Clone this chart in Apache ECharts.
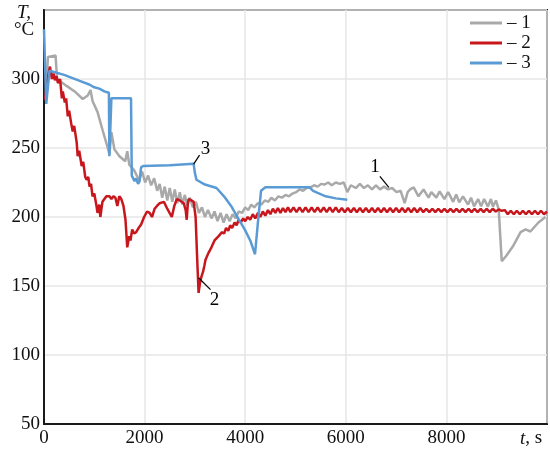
<!DOCTYPE html>
<html>
<head>
<meta charset="utf-8">
<script src="https://cdn.jsdelivr.net/npm/echarts@6/dist/echarts.min.js"></script>
<style>
  html, body { margin: 0; padding: 0; background: #fff; }
  #chart { width: 550px; height: 457px; }
</style>
</head>
<body>
<div id="chart"></div>
<script>
// x ticks (s) and y ticks (°C)
const xTicks = [0, 2000, 4000, 6000, 8000, 10000];
const yTicks = [50, 100, 150, 200, 250, 300];
const legendNames = ['– 1', '– 2', '– 3'];

// curve 1 (gray): [t, T]
const curve1 = [
  [50, 300], [80, 316], [230, 317], [260, 300], [450, 295], [610, 291], [770, 285.5],
  [870, 288], [925, 292], [965, 284], [1065, 276], [1160, 263.6], [1260, 251], [1300, 245.5],
  [1340, 261.5], [1400, 249], [1500, 244], [1615, 240.4], [1655, 247.7], [1695, 238],
  [1790, 234], [1890, 226.6], [1950, 233], [2010, 225], [2070, 230], [2130, 223], [2190, 228],
  [2250, 219], [2300, 224], [2350, 214], [2400, 222], [2450, 212], [2500, 221], [2550, 211],
  [2600, 220], [2650, 210], [2700, 218], [2750, 209], [2800, 216], [2850, 208], [2900, 214],
  [2960, 207], [3020, 211], [3080, 203], [3140, 207], [3200, 200], [3260, 205], [3330, 199],
  [3390, 204], [3450, 197], [3510, 203], [3570, 196], [3630, 202], [3690, 197], [3750, 202],
  [3810, 199], [3870, 204], [3940, 203], [4000, 207], [4060, 205], [4120, 209], [4180, 207],
  [4250, 210], [4320, 209], [4390, 212], [4460, 211], [4520, 214], [4590, 212], [4660, 215],
  [4730, 214], [4800, 216], [4870, 215], [4940, 217], [5010, 218], [5080, 220], [5150, 219],
  [5220, 221], [5300, 221.5], [5370, 223], [5440, 222], [5510, 224], [5575, 223.5], [5650, 225],
  [5720, 223], [5800, 225], [5880, 224], [5960, 225], [6030, 218], [6100, 223], [6200, 221],
  [6280, 224], [6360, 221], [6440, 223], [6520, 220], [6600, 223], [6680, 220], [6760, 222],
  [6840, 220], [6920, 221], [7010, 218], [7090, 219], [7170, 210], [7230, 218], [7280, 220],
  [7350, 221.5], [7445, 215], [7545, 220], [7645, 214], [7700, 218], [7800, 214], [7865, 218.6],
  [7960, 213], [8035, 218], [8135, 211], [8195, 216.4], [8255, 210.6], [8330, 215], [8430, 209],
  [8490, 214], [8550, 207.7], [8630, 213], [8690, 207.7], [8750, 213], [8825, 207.5], [8885, 213],
  [8925, 207.5], [8985, 212], [9040, 205.5], [9100, 168], [9180, 171.4], [9320, 178.6],
  [9475, 189], [9575, 191], [9670, 189.5], [9830, 196], [9970, 200]
];

// curve 2 (red): [t, T]
const curve2 = [
  [20, 285], [60, 298], [118, 309], [158, 300], [190, 304], [217, 299], [250, 302], [276, 297],
  [320, 300], [355, 286], [374, 291], [414, 283], [440, 286], [473, 273], [500, 277], [540, 268],
  [571, 262], [600, 266], [650, 254], [670, 244], [700, 248], [749, 237], [780, 240], [820, 229],
  [847, 227], [880, 229], [906, 222], [935, 224], [965, 215], [1000, 217], [1044, 208], [1064, 203],
  [1100, 209], [1120, 200], [1162, 211], [1200, 213], [1241, 215], [1300, 215], [1340, 213],
  [1380, 215], [1420, 214], [1458, 208], [1497, 215], [1537, 213], [1580, 208], [1620, 198],
  [1655, 178], [1694, 186], [1720, 183], [1753, 191], [1790, 188], [1832, 189], [1880, 192],
  [1931, 194.6], [1990, 200], [2049, 204], [2100, 203], [2147, 200], [2200, 206], [2246, 208],
  [2300, 210], [2384, 211], [2450, 206], [2541, 200], [2590, 208], [2640, 213], [2700, 212],
  [2778, 210], [2817, 205], [2837, 198], [2860, 210], [2876, 213], [2930, 212], [2975, 211],
  [3014, 200], [3045, 170], [3073, 145], [3100, 152], [3132, 157], [3160, 160], [3190, 165],
  [3211, 169], [3240, 168], [3270, 174], [3300, 176], [3329, 178], [3360, 177], [3390, 183],
  [3420, 182], [3467, 186], [3500, 185], [3540, 189], [3580, 188], [3620, 192], [3664, 190],
  [3700, 194], [3740, 192], [3790, 196], [3830, 194], [3870, 198], [3910, 196], [3960, 199],
  [4000, 197], [4050, 200], [4100, 198], [4150, 202], [4200, 199], [4255, 203], [4300, 200],
  [4350, 204], [4400, 201], [4452, 205], [4500, 202], [4550, 206], [4600, 203], [4650, 206.5],
  [4700, 203], [4750, 206.5], [4800, 203.5], [4850, 207], [4900, 203.5], [4960, 207], [5020, 203.5],
  [5080, 207], [5140, 203.5], [5200, 207], [5260, 203.5], [5320, 207], [5380, 203.5], [5440, 207],
  [5500, 203.5], [5560, 207], [5620, 203.5], [5680, 207], [5740, 203.5], [5800, 207], [5860, 203.5],
  [5920, 206.5], [5980, 203.5], [6040, 206.5], [6100, 203.5], [6160, 206.5], [6220, 203.5],
  [6280, 206.5], [6340, 203.5], [6400, 206.5], [6460, 203.5], [6520, 206.5], [6580, 203.5],
  [6640, 206.5], [6700, 203.5], [6760, 206.5], [6820, 203.5], [6880, 206.5], [6940, 203.5],
  [7000, 206.5], [7060, 203.5], [7120, 206.5], [7180, 203.5], [7240, 206.5], [7300, 203.5],
  [7360, 206.5], [7420, 203.5], [7480, 206.5], [7540, 203.5], [7600, 206], [7660, 203.5],
  [7720, 206], [7780, 203.5], [7840, 206], [7900, 203.5], [7960, 206], [8020, 203.5], [8080, 206],
  [8140, 203.5], [8200, 206], [8260, 203.5], [8320, 206], [8380, 203.5], [8440, 206], [8500, 203.5],
  [8560, 206], [8620, 203.5], [8680, 206], [8740, 203.5], [8800, 206], [8860, 203.5], [8920, 206],
  [8980, 204], [9040, 205.5], [9100, 204.5], [9160, 205], [9220, 202], [9280, 204.5], [9340, 202],
  [9400, 204.5], [9460, 202], [9520, 204.5], [9580, 202], [9640, 204.5], [9700, 202], [9760, 204.5],
  [9820, 202], [9880, 204.5], [9940, 202], [10000, 204]
];

// curve 3 (blue): [t, T]
const curve3 = [
  [0, 336], [45, 282], [110, 306], [400, 303], [710, 298.6], [900, 296], [1000, 294], [1100, 293],
  [1200, 291], [1290, 290], [1300, 244], [1320, 244], [1340, 286], [1730, 286], [1745, 230],
  [1780, 229], [1800, 226], [1830, 228], [1870, 224], [1900, 226], [1930, 236], [1970, 237],
  [2500, 237.5], [2975, 238.5], [3000, 232], [3030, 227], [3200, 223.5], [3430, 221], [3600, 214],
  [3720, 208], [3860, 199], [3990, 191], [4100, 183], [4195, 173], [4250, 195], [4315, 219],
  [4400, 221.5], [5280, 221.5], [5350, 219], [5440, 217.5], [5600, 215], [5800, 213.5], [6030, 212.5]
];

// curve labels: text, text position, leader line start, leader line end
const curveLabels = [
  { text: '1', at: [6580, 236], from: [6678, 229.5], to: [6856, 221.5] },
  { text: '2', at: [3388, 140], from: [3073, 156], to: [3310, 147.4] },
  { text: '3', at: [3211, 249], from: [2975, 238.3], to: [3093, 244.8] }
];

const serif = '"Liberation Serif", "DejaVu Serif", serif';
const chart = echarts.init(document.getElementById('chart'));

function marks(i) {
  const l = curveLabels[i];
  return {
    markLine: {
      silent: true, animation: false, symbol: ['none', 'none'],
      lineStyle: { color: '#000', width: 1.2, type: 'solid' },
      label: { show: false },
      data: [[{ coord: l.from }, { coord: l.to }]]
    },
    markPoint: {
      silent: true, animation: false, symbol: 'circle', symbolSize: 0,
      label: { show: true, position: 'inside', formatter: l.text, color: '#000', fontFamily: serif, fontSize: 19 },
      data: [{ coord: l.at }]
    }
  };
}

const colors = ['#a9a9a9', '#c8161d', '#5b9bd5'];
const curves = [curve1, curve2, curve3];

chart.setOption({
  animation: false,
  backgroundColor: '#fff',
  grid: { left: 44, right: -1, top: 10, bottom: 33, show: true, borderColor: '#1a1a1a', borderWidth: 2 },
  legend: {
    data: legendNames, orient: 'vertical', left: 470, top: 13, padding: 0,
    icon: 'rect', itemWidth: 32, itemHeight: 3, itemGap: 0,
    textStyle: { fontFamily: serif, fontSize: 19, color: '#111', lineHeight: 20, height: 20 }
  },
  xAxis: {
    type: 'value', min: xTicks[0], max: xTicks[xTicks.length - 1], interval: 2000,
    axisLine: { show: true, lineStyle: { color: '#1a1a1a', width: 2 } },
    axisTick: { show: false },
    splitLine: { show: true, lineStyle: { color: '#e6e6e6', width: 1.5 } },
    axisLabel: {
      margin: 5, color: '#111', fontFamily: serif, fontSize: 19, alignMaxLabel: 'right',
      formatter: v => v === 10000 ? '{i|t}, s ' : String(v),
      rich: { i: { fontStyle: 'italic', fontFamily: serif, fontSize: 19, color: '#111' } }
    }
  },
  yAxis: {
    type: 'value', min: yTicks[0], max: 350, interval: 50,
    axisLine: { show: true, lineStyle: { color: '#1a1a1a', width: 2 } },
    axisTick: { show: false },
    splitLine: { show: true, lineStyle: { color: '#e6e6e6', width: 1.5 } },
    axisLabel: { margin: 4, color: '#111', fontFamily: serif, fontSize: 19, showMaxLabel: false }
  },
  graphic: [
    { type: 'text', left: 17, top: 3, style: { text: 'T,', fontFamily: serif, fontSize: 19, fontStyle: 'italic', fill: '#111' } },
    { type: 'text', left: 14, top: 21, style: { text: '°C', fontFamily: serif, fontSize: 19, fill: '#111' } }
  ],
  series: curves.map((c, i) => Object.assign({
    name: legendNames[i], type: 'line', data: c, symbol: 'none', smooth: false,
    lineStyle: { color: colors[i], width: 2.5 }, itemStyle: { color: colors[i] }
  }, marks(i)))
});
</script>
</body>
</html>
